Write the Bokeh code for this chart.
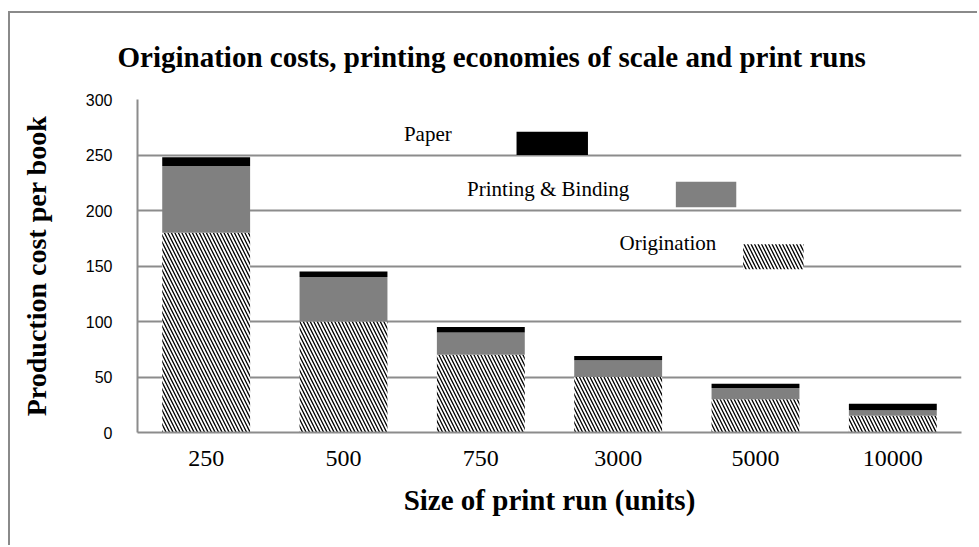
from bokeh.plotting import figure
from bokeh.models import FactorRange, Range1d, Label, BoxAnnotation, ColumnDataSource
from bokeh.embed import file_html
from bokeh.resources import INLINE

# ---- data ----
runs = ["250", "500", "750", "3000", "5000", "10000"]
origination = [180, 100, 70, 50, 30, 15]
printing = [60, 40, 20, 15, 10, 5]
paper = [8, 5, 5, 4, 4, 6]
series = ["origination", "printing", "paper"]
series_names = ["Origination", "Printing & Binding", "Paper"]
y_ticks = [0, 50, 100, 150, 200, 250, 300]

title_text = "Origination costs, printing economies of scale and print runs"
x_label = "Size of print run (units)"
y_label = "Production cost per book"

GRID = "#8c8c8c"
SERIF = "Liberation Serif"
HATCH_SCALE = 7
HATCH_WEIGHT = 1.3

source = ColumnDataSource(dict(runs=runs, origination=origination,
                               printing=printing, paper=paper))

p = figure(
    x_range=FactorRange(factors=runs),
    y_range=Range1d(0, 300),
    width=969, height=534,
    output_backend="svg", toolbar_location=None,
    min_border_left=127, min_border_right=18,
    min_border_top=86, min_border_bottom=115,
    styles={"margin-left": "8px", "margin-top": "11px",
            "border-left": "2px solid #8a8a8a",
            "border-top": "2px solid #8a8a8a"},
)

p.vbar_stack(series, x="runs", width=0.64, source=source,
             fill_color=["white", "#808080", "black"],
             line_color=None,
             hatch_pattern=["\\", " ", " "],
             hatch_color="black", hatch_scale=HATCH_SCALE, hatch_weight=HATCH_WEIGHT)

# title
p.title.text = title_text
p.title.text_font = SERIF
p.title.text_font_size = "29px"
p.title.text_font_style = "bold"
p.title.text_color = "black"
p.title.align = "left"
p.title.vertical_align = "top"
p.title.offset = -20
p.title.standoff = 50

# grid
p.xgrid.grid_line_color = None
p.ygrid.grid_line_color = GRID
p.ygrid.grid_line_width = 2
p.outline_line_color = None

# y axis
p.yaxis.ticker = y_ticks
p.yaxis.major_label_text_font = "Liberation Sans"
p.yaxis.major_label_text_font_size = "16px"
p.yaxis.major_label_text_color = "black"
p.yaxis.major_label_standoff = 19
p.yaxis.axis_line_color = GRID
p.yaxis.axis_line_width = 2
p.yaxis.major_tick_line_color = None
p.yaxis.minor_tick_line_color = None
p.yaxis.axis_label = y_label
p.yaxis.axis_label_text_font = SERIF
p.yaxis.axis_label_text_font_size = "28px"
p.yaxis.axis_label_text_font_style = "bold"
p.yaxis.axis_label_text_color = "black"
p.yaxis.axis_label_standoff = 31

# x axis
p.xaxis.major_label_text_font = SERIF
p.xaxis.major_label_text_font_size = "24px"
p.xaxis.major_label_text_color = "black"
p.xaxis.major_label_standoff = 12
p.xaxis.axis_line_color = GRID
p.xaxis.axis_line_width = 2
p.xaxis.major_tick_line_color = None
p.xaxis.minor_tick_line_color = None
p.xaxis.axis_label = x_label
p.xaxis.axis_label_text_font = SERIF
p.xaxis.axis_label_text_font_size = "29px"
p.xaxis.axis_label_text_font_style = "bold"
p.xaxis.axis_label_text_color = "black"
p.xaxis.axis_label_standoff = 15

# legend (manually arranged, as in the reference)
legend_text_pos = [(3.51, 170.5), (2.40, 219), (1.94, 268.5)]
legend_boxes = [(4.41, 4.85, 147, 169.5), (3.92, 4.36, 203, 226), (2.76, 3.28, 250, 271)]
legend_fill = ["white", "#808080", "black"]
legend_hatch = ["\\", " ", " "]
for name, (tx, ty), (l, r, b, t), fc, hp in zip(series_names, legend_text_pos,
                                                 legend_boxes, legend_fill, legend_hatch):
    p.add_layout(Label(x=tx, y=ty, text=name, text_font=SERIF,
                       text_font_size="21px", text_color="black",
                       text_align="left", text_baseline="middle"))
    p.add_layout(BoxAnnotation(left=l, right=r, bottom=b, top=t,
                               fill_color=fc, fill_alpha=1.0, line_color=None,
                               hatch_pattern=hp, hatch_color="black",
                               hatch_scale=HATCH_SCALE, hatch_weight=HATCH_WEIGHT,
                               hatch_alpha=1.0))

open("out.html", "w").write(file_html(p, INLINE))
